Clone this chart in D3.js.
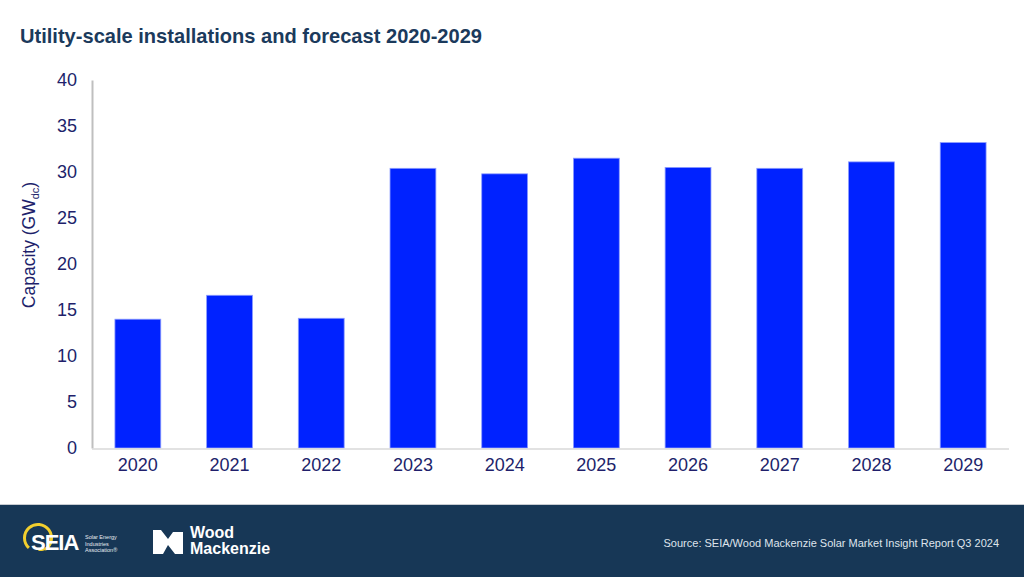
<!DOCTYPE html>
<html>
<head>
<meta charset="utf-8">
<script src="https://cdn.jsdelivr.net/npm/d3@7"></script>
<style>
  html, body { margin: 0; padding: 0; background: #fff; }
  svg { display: block; font-family: "Liberation Sans", Arial, sans-serif; }
</style>
</head>
<body>
<svg id="chart" width="1024" height="577"></svg>
<script>
const categories = ["2020","2021","2022","2023","2024","2025","2026","2027","2028","2029"];
const capacityValues = [14.0, 16.6, 14.1, 30.4, 29.8, 31.5, 30.5, 30.4, 31.1, 33.2];
const yTickValues = [0, 5, 10, 15, 20, 25, 30, 35, 40];
const titleText = "Utility-scale installations and forecast 2020-2029";
const sourceText = "Source: SEIA/Wood Mackenzie Solar Market Insight Report Q3 2024";

const svg = d3.select("#chart");
const W = 1024, H = 577;

svg.append("rect").attr("width", W).attr("height", H).attr("fill", "#ffffff");

// Title
svg.append("text")
  .attr("x", 20).attr("y", 43)
  .attr("font-size", 21).attr("font-weight", "bold")
  .attr("fill", "#1b3a5c")
  .attr("textLength", 462).attr("lengthAdjust", "spacingAndGlyphs")
  .text(titleText);

const x = d3.scaleBand().domain(categories).range([92, 1009]).paddingInner(0.5).paddingOuter(0.25);
const y = d3.scaleLinear().domain([0, 40]).range([448, 80]);

// Bars
svg.append("g").selectAll("rect").data(categories).join("rect")
  .attr("x", d => x(d))
  .attr("y", (d, i) => y(capacityValues[i]))
  .attr("width", x.bandwidth())
  .attr("height", (d, i) => y(0) - y(capacityValues[i]))
  .attr("fill", "#0022ff")
  .attr("stroke", "#8c9cff")
  .attr("stroke-width", 0.8);

// Y axis
const yAxis = svg.append("g").attr("transform", "translate(92,0)")
  .call(d3.axisLeft(y).tickValues(yTickValues).tickSize(0).tickPadding(15));
yAxis.select(".domain").attr("stroke", "#bfbfbf").attr("stroke-width", 2);
yAxis.selectAll("text").attr("font-size", 18).attr("fill", "#211f6b")
  .attr("font-family", "'Liberation Sans', Arial, sans-serif");

// X axis
const xAxis = svg.append("g").attr("transform", "translate(0,449)")
  .call(d3.axisBottom(x).tickSize(0).tickPadding(9));
xAxis.select(".domain").attr("stroke", "#d9d9d9").attr("stroke-width", 1.5)
  .attr("d", "M92,0H1009");
xAxis.selectAll("text").attr("font-size", 18).attr("fill", "#211f6b")
  .attr("font-family", "'Liberation Sans', Arial, sans-serif");

// Y axis title
const yt = svg.append("text")
  .attr("transform", "translate(35,245) rotate(-90)")
  .attr("text-anchor", "middle")
  .attr("font-size", 17.5).attr("fill", "#211f6b");
yt.append("tspan").text("Capacity (GW");
yt.append("tspan").attr("font-size", 11).attr("dy", 4).text("dc");
yt.append("tspan").attr("dy", -4).text(")");

// Footer
svg.append("rect").attr("x", 0).attr("y", 505).attr("width", W).attr("height", H - 505).attr("fill", "#173756");
svg.append("line").attr("x1", 0).attr("x2", W).attr("y1", 504.5).attr("y2", 504.5).attr("stroke", "#c8ccd2").attr("stroke-width", 1);

// SEIA logo
const seia = svg.append("g");
seia.append("path")
  .attr("d", d3.arc()({innerRadius: 12, outerRadius: 15, startAngle: -2.4, endAngle: 2.6}))
  .attr("transform", "translate(38,538)")
  .attr("fill", "#f2cf2e");
seia.append("path")
  .attr("d", d3.arc()({innerRadius: 9, outerRadius: 11, startAngle: 1.6, endAngle: 3.4}))
  .attr("transform", "translate(41,540)")
  .attr("fill", "#f2cf2e");
seia.append("text").attr("x", 31).attr("y", 550)
  .attr("font-size", 22).attr("font-weight", "bold").attr("fill", "#ffffff")
  .attr("letter-spacing", -1)
  .text("SEIA");
["Solar Energy", "Industries", "Association®"].forEach((t, i) => {
  seia.append("text").attr("x", 85).attr("y", 539 + i * 6.5)
    .attr("font-size", 5.5).attr("fill", "#e8ecf2").text(t);
});

// Wood Mackenzie logo
const wm = svg.append("g").attr("transform", "translate(153,530)");
wm.append("path")
  .attr("d", "M0,0 L8,0 L15,9 L20,2 L30,2 L30,24 L22,24 L15,15 L10,24 L0,24 Z")
  .attr("fill", "#ffffff");
svg.append("text").attr("x", 190).attr("y", 538)
  .attr("font-size", 16).attr("font-weight", "bold").attr("fill", "#ffffff").text("Wood");
svg.append("text").attr("x", 190).attr("y", 554)
  .attr("font-size", 16).attr("font-weight", "bold").attr("fill", "#ffffff").text("Mackenzie");

// Source
svg.append("text").attr("x", 999).attr("y", 547)
  .attr("text-anchor", "end").attr("font-size", 11)
  .attr("fill", "#dfe4ec").text(sourceText);
</script>
</body>
</html>
